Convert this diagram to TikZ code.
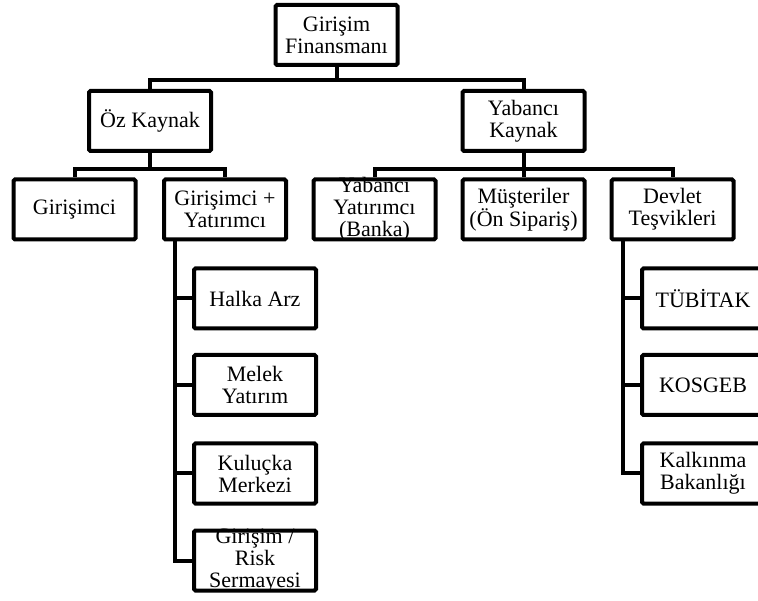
\documentclass[tikz,border=0pt]{standalone}
\usepackage{fontspec}
\setmainfont{Liberation Serif}
\usetikzlibrary{calc}
\tikzset{
  lbl/.style={     % box text, drawn first so the frame sits on top
    align=center, inner sep=0pt,
    font=\fontsize{22}{22}\selectfont
  },
  box/.style={     % plain frame, fixed size
    draw=black, line width=4pt, rounded corners=1.5pt,
    minimum width=122pt, minimum height=60pt, inner sep=0pt
  },
  link/.style={line width=4pt, color=black},
}

\begin{document}
\begin{tikzpicture}[x=1pt, y=-1pt]
\useasboundingbox (0,0) rectangle (758,601);

%% ─── Top ────────────────────────────────────────────────────────────────────
\node[lbl] (rootT) at (336.5, 35) {Girişim\\Finansmanı};
\node[box] (root)  at (rootT) {};

%% ─── Level 1 ────────────────────────────────────────────────────────────────
\node[lbl] (ozT)  at (150.0, 121) {Öz Kaynak};
\node[box] (oz)   at (ozT) {};
\node[lbl] (yabT) at (523.5, 121) {Yabancı\\Kaynak};
\node[box] (yab)  at (yabT) {};

\draw[link] (root.south) -- ++(0,13) -| (oz.north);
\draw[link] (root.south) -- ++(0,13) -| (yab.north);

%% ─── Level 2 ────────────────────────────────────────────────────────────────
\node[lbl] (girT)    at ( 74.5, 209.5) {Girişimci};
\node[box] (gir)     at (girT) {};
\node[lbl] (giryT)   at (225.0, 209.5) {Girişimci +\\Yatırımcı};
\node[box] (giry)    at (giryT) {};
\node[lbl] (ybyatT)  at (374.5, 209.5) {Yabancı\\Yatırımcı\\(Banka)};
\node[box] (ybyat)   at (ybyatT) {};
\node[lbl] (mustT)   at (523.5, 209.5) {Müşteriler\\(Ön Sipariş)};
\node[box] (must)    at (mustT) {};
\node[lbl] (devletT) at (672.5, 209.5) {Devlet\\Teşvikleri};
\node[box] (devlet)  at (devletT) {};

\draw[link] (oz.south) -- ++(0,16) -| (gir.north);
\draw[link] (oz.south) -- ++(0,16) -| (giry.north);
\draw[link] (yab.south) -- ++(0,16) -| (ybyat.north);
\draw[link] (yab.south) -- (must.north);
\draw[link] (yab.south) -- ++(0,16) -| (devlet.north);

%% ─── Level 3, left column ───────────────────────────────────────────────────
\node[lbl] (halkaT)   at (255, 298.5) {Halka Arz};
\node[box] (halka)    at (halkaT) {};
\node[lbl] (melekT)   at (255, 385.0) {Melek\\Yatırım};
\node[box] (melek)    at (melekT) {};
\node[lbl] (kulT)     at (255, 473.5) {Kuluçka\\Merkezi};
\node[box] (kul)      at (kulT) {};
\node[lbl] (riskT)    at (255, 560.5) {Girişim /\\Risk\\Sermayesi};
\node[box] (risk)     at (riskT) {};

\draw[link] ($(giry.south west)+(13,0)$) |- (halka.west);
\draw[link] ($(giry.south west)+(13,0)$) |- (melek.west);
\draw[link] ($(giry.south west)+(13,0)$) |- (kul.west);
\draw[link] ($(giry.south west)+(13,0)$) |- (risk.west);

%% ─── Level 3, right column ──────────────────────────────────────────────────
\node[lbl] (tubT)   at (703, 298.5) {TÜBİTAK};
\node[box] (tub)    at (tubT) {};
\node[lbl] (kosT)   at (703, 385.0) {KOSGEB};
\node[box] (kos)    at (kosT) {};
\node[lbl] (kalkT)  at (703, 473.5) {Kalkınma\\Bakanlığı};
\node[box] (kalk)   at (kalkT) {};

\draw[link] ($(devlet.south west)+(13,0)$) |- (tub.west);
\draw[link] ($(devlet.south west)+(13,0)$) |- (kos.west);
\draw[link] ($(devlet.south west)+(13,0)$) |- (kalk.west);

\end{tikzpicture}
\end{document}
